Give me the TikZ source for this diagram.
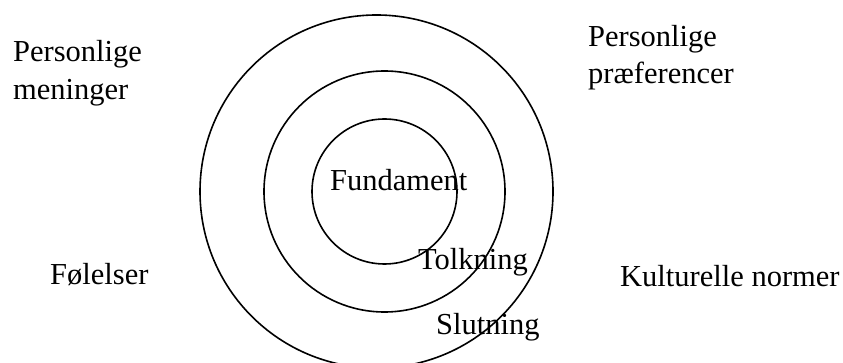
\documentclass[tikz,border=0pt]{standalone}
\usepackage{fontspec}
\setmainfont{Liberation Serif}
\usepackage{tikz}
\usetikzlibrary{positioning}

\tikzset{
  ring/.style={draw, line width=1.6pt},
  lbl/.style={anchor=base west, inner sep=0pt, font=\fontsize{30.5}{37}\selectfont}
}

\begin{document}
\begin{tikzpicture}[x=1pt, y=-1pt]
\useasboundingbox (0,0) rectangle (843,363);
\begin{scope}
\clip (0,0) rectangle (843,363);
% Rings
\draw[ring] (376.5,191.5) circle (176.5);
\draw[ring] (384.5,191.5) circle (120.5);
\draw[ring] (384.5,191.5) circle (72.5);
\end{scope}
% Ring labels
\node[lbl] (fundament) at (330,191) {Fundament};
\node[lbl] (tolkning) at (418,270) {Tolkning};
\node[lbl] (slutning) at (436,334) {Slutning};
% Outer labels
\node[lbl] (meninger1) at (13,62) {Personlige};
\node[lbl] (meninger2) at (13,100) {meninger};
\node[lbl] (praef1) at (588,47) {Personlige};
\node[lbl] (praef2) at (588,84) {præferencer};
\node[lbl] (foelelser) at (50,285) {Følelser};
\node[lbl] (normer) at (620,287) {Kulturelle normer};
\end{tikzpicture}
\end{document}
